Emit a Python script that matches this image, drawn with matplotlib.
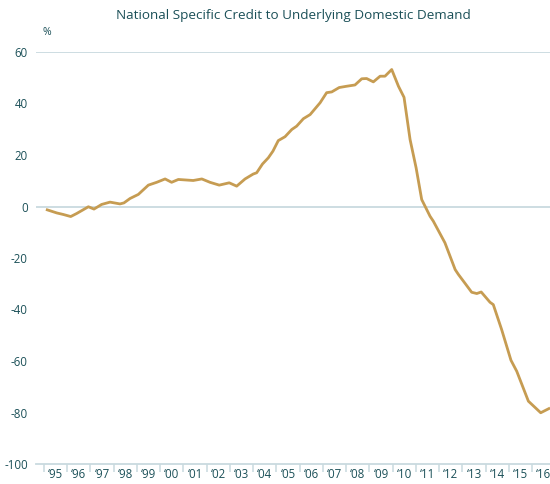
import matplotlib
matplotlib.use("Agg")
import matplotlib.pyplot as plt
import numpy as np

# data (decimal year, %)
years = [1995.14, 1995.55, 1995.83, 1996.15, 1996.41, 1996.91, 1997.15, 1997.48,
         1997.84, 1998.27, 1998.44, 1998.70, 1999.06, 1999.49, 1999.85, 2000.21,
         2000.49, 2000.78, 2001.42, 2001.79, 2002.14, 2002.54, 2002.97, 2003.29,
         2003.65, 2004.00, 2004.15, 2004.40, 2004.65, 2004.85, 2005.08, 2005.37,
         2005.66, 2005.87, 2006.16, 2006.45, 2006.88, 2007.16, 2007.38, 2007.70,
         2008.02, 2008.38, 2008.67, 2008.88, 2009.17, 2009.46, 2009.67, 2009.96,
         2010.25, 2010.49, 2010.75, 2011.01, 2011.25, 2011.61, 2011.75, 2012.25,
         2012.69, 2012.83, 2013.12, 2013.40, 2013.62, 2013.81, 2014.19, 2014.33,
         2014.69, 2015.09, 2015.34, 2015.84, 2016.37, 2016.72]
credit = [-1.3, -2.5, -3.1, -3.9, -2.7, -0.1, -1.0, 0.8,
          1.7, 1.0, 1.4, 3.1, 4.7, 8.3, 9.4, 10.7,
          9.4, 10.5, 10.1, 10.7, 9.4, 8.3, 9.2, 7.9,
          10.7, 12.6, 13.1, 16.5, 18.9, 21.5, 25.6, 27.1,
          29.9, 31.2, 34.1, 35.7, 40.3, 44.2, 44.5, 46.2,
          46.7, 47.2, 49.6, 49.7, 48.4, 50.6, 50.6, 53.2,
          46.7, 42.4, 26.0, 15.0, 2.7, -3.8, -5.7, -14.1,
          -24.5, -26.4, -29.9, -33.3, -33.8, -33.2, -37.2, -38.1,
          -47.8, -59.7, -64.0, -75.6, -80.1, -78.5]

year_ticks = list(range(1995, 2017))
year_labels = ["\u2018%02d" % (y % 100) for y in year_ticks]
y_ticks = [60, 40, 20, 0, -20, -40, -60, -80, -100]

TEAL = "#1b5058"
GRID = "#c9dadf"
GOLD = "#c69c52"

plt.rcParams["font.family"] = ["Open Sans", "DejaVu Sans"]

fig = plt.figure(figsize=(5.5, 4.84), dpi=100)
ax = fig.add_axes([36 / 550, 20 / 484, 1 - 36 / 550, 412 / 484])

ax.plot(years, credit, color=GOLD, lw=2.0, solid_joinstyle="round", zorder=3)

ax.axhline(0, color=GRID, lw=1.3, zorder=1)
ax.axhline(60, color=GRID, lw=1.3, zorder=1)

ax.set_xlim(1994.656, 2016.77)
ax.set_ylim(-100, 60)

for s in ["top", "right", "left"]:
    ax.spines[s].set_visible(False)
ax.spines["bottom"].set_color(GRID)
ax.spines["bottom"].set_linewidth(1.3)

# tick marks at year boundaries, labels centred in each year
ax.set_xticks(year_ticks)
ax.set_xticklabels([])
ax.set_xticks([y + 0.5 for y in year_ticks], minor=True)
ax.set_xticklabels(year_labels, minor=True)
ax.tick_params(axis="x", which="major", length=6, width=1.1, color=GRID, direction="out")
ax.tick_params(axis="x", which="minor", length=0, pad=3, labelsize=8.3, labelcolor=TEAL)

ax.set_yticks(y_ticks)
ax.set_yticklabels([str(v) for v in y_ticks])
ax.tick_params(axis="y", length=0, pad=6, labelsize=8.3, labelcolor=TEAL)

fig.text(47 / 550, 1 - 33 / 484, "%", color=TEAL, fontsize=7.5, ha="center", va="center")
fig.text(293 / 550, 1 - 16 / 484, "National Specific Credit to Underlying Domestic Demand",
         color=TEAL, fontsize=9.7, ha="center", va="center")

fig.savefig("out.png", dpi=100)
